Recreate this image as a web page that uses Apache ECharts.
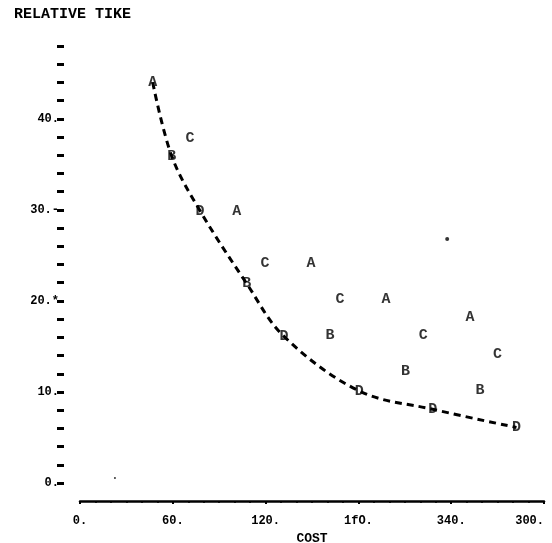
<!DOCTYPE html>
<html>
<head>
<meta charset="utf-8">
<script src="https://cdn.jsdelivr.net/npm/echarts@6/dist/echarts.min.js"></script>
<style>html,body{margin:0;padding:0;background:#fff;}#c{width:552px;height:543px;}</style>
</head>
<body>
<div id="c"></div>
<script>
// Data
const seriesA = [[47, 44.0], [101.3, 29.9], [149.3, 24.1], [197.8, 20.2], [252.1, 18.2]];
const seriesB = [[59.3, 35.9], [107.8, 21.9], [161.6, 16.2], [210.5, 12.25], [258.6, 10.2]];
const seriesC = [[71.1, 37.9], [119.6, 24.1], [168.1, 20.2], [221.9, 16.2], [270.0, 14.2]];
const seriesD = [[77.6, 29.9], [131.9, 16.1], [180.6, 10.1], [228.0, 8.1], [282.2, 6.1]];
const curveX = [47, 59.3, 77.6, 107.8, 131.9, 180.6, 228.0, 282.2];
const curveY = [44.0, 35.9, 29.9, 21.9, 16.1, 10.1, 8.1, 6.1];
const dots = [[237.4, 26.8], [22.6, 0.55]];
const xTickValues = [0, 60, 120, 180, 240, 300];
const xTickLabels = ['0.', '60.', '120.', '1fO.', '340.', '300.'];
const yTickValues = [0, 10, 20, 30, 40];
const yTickLabels = ['0.', '10.', '20.*', '30.-', '40.'];

const FONT = '"Liberation Mono", "DejaVu Sans Mono", monospace';

function letterSeries(data, letter) {
  return {
    type: 'scatter',
    data: data,
    symbolSize: 1,
    itemStyle: { color: 'rgba(0,0,0,0)' },
    z: 5,
    label: {
      show: true,
      position: 'inside',
      formatter: letter,
      fontFamily: FONT,
      fontWeight: 'bold',
      fontSize: 15,
      color: '#000'
    }
  };
}

const chart = echarts.init(document.getElementById('c'));
chart.setOption({
  animation: false,
  backgroundColor: '#fff',
  title: {
    text: 'RELATIVE TIKE',
    left: 9,
    top: 2,
    textStyle: { fontFamily: FONT, fontWeight: 'bold', fontSize: 15, color: '#000' }
  },
  grid: { left: 80, right: 8, top: 46, bottom: 60, outerBoundsMode: 'none', containLabel: false },
  xAxis: {
    type: 'value',
    min: 0, max: 300, interval: 60,
    offset: 18,
    name: 'COST',
    nameLocation: 'middle',
    nameGap: 20,
    nameTextStyle: { fontFamily: FONT, fontWeight: 'bold', fontSize: 13, color: '#000' },
    axisLine: { show: true, onZero: false, lineStyle: { color: '#000', width: 2.5 } },
    axisTick: { show: true, inside: false, length: 3, lineStyle: { color: '#000', width: 2 } },
    minorTick: { show: true, splitNumber: 6, length: 2, lineStyle: { color: '#000', width: 1.5 } },
    splitLine: { show: false },
    axisLabel: {
      margin: 14,
      alignMaxLabel: 'right',
      fontFamily: FONT, fontSize: 12, fontWeight: 'bold', color: '#000',
      formatter: function (v) {
        const i = xTickValues.indexOf(v);
        return i >= 0 ? xTickLabels[i] : '';
      }
    }
  },
  yAxis: {
    type: 'value',
    min: 0, max: 48, interval: 2,
    offset: 16,
    axisLine: { show: false, onZero: false },
    axisTick: { show: true, inside: false, length: 7, lineStyle: { color: '#000', width: 3 } },
    splitLine: { show: false },
    axisLabel: {
      margin: 5,
      fontFamily: FONT, fontSize: 12, fontWeight: 'bold', color: '#000',
      formatter: function (v) {
        const i = yTickValues.indexOf(v);
        return i >= 0 ? yTickLabels[i] : '';
      }
    }
  },
  series: [
    {
      type: 'line',
      data: curveX.map((x, i) => [x, curveY[i]]),
      symbol: 'none',
      smooth: 0.35,
      z: 2,
      lineStyle: { color: '#000', width: 3, type: [7, 5] }
    },
    letterSeries(seriesA, 'A'),
    letterSeries(seriesB, 'B'),
    letterSeries(seriesC, 'C'),
    letterSeries(seriesD, 'D'),
    {
      type: 'scatter',
      data: dots,
      symbol: 'circle',
      symbolSize: function (v) { return v[1] > 5 ? 4 : 2; },
      itemStyle: { color: '#000' }
    }
  ]
});
</script>
</body>
</html>
